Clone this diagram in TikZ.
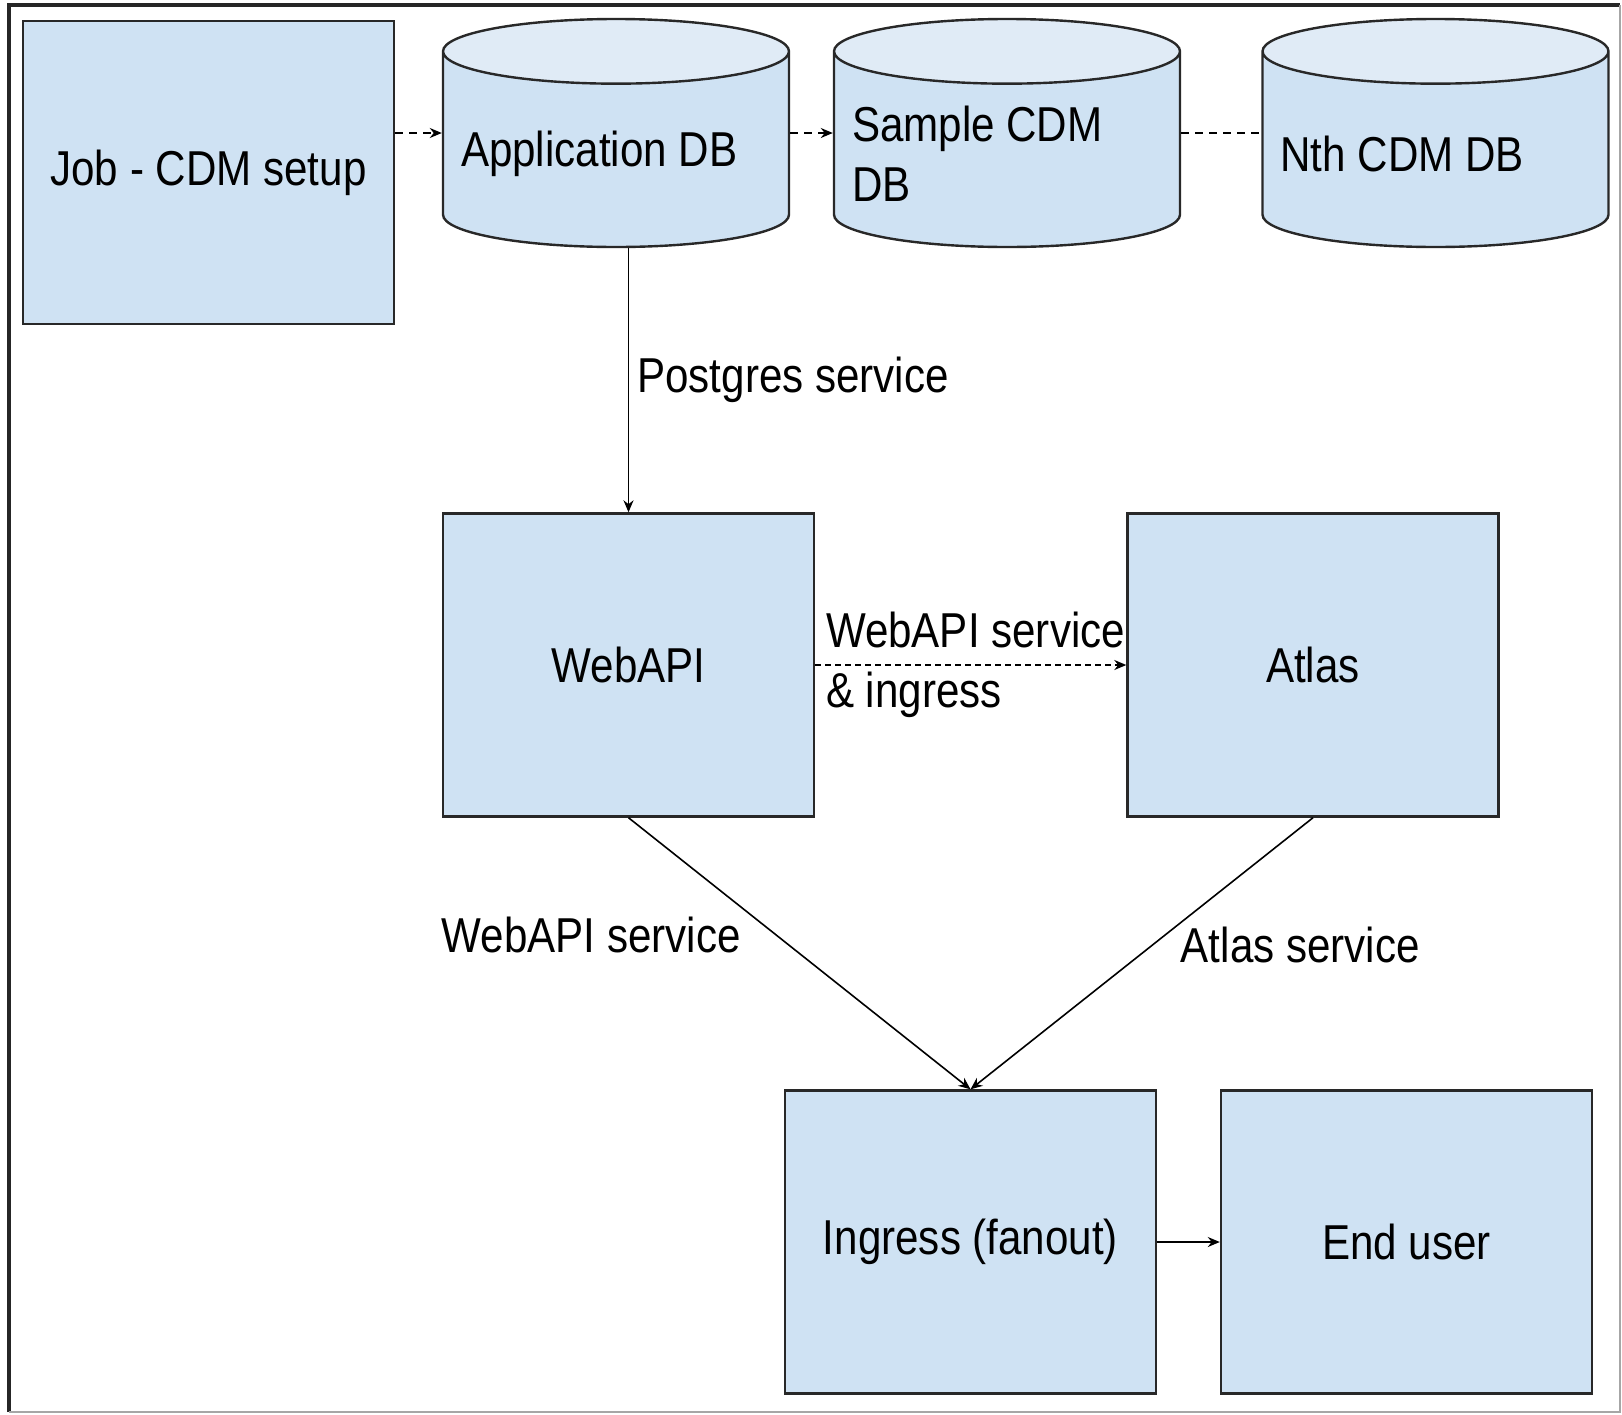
\documentclass[tikz,border=0pt]{standalone}
\usepackage{fontspec}
\setmainfont{Liberation Sans}[FakeStretch=0.86]
\usetikzlibrary{positioning,shapes.geometric,arrows.meta}
\definecolor{boxblue}{RGB}{207,226,243}
\definecolor{topblue}{RGB}{224,235,246}
\definecolor{rim}{RGB}{40,40,40}
\tikzset{
  blk/.style={rectangle, draw=rim, fill=boxblue, line width=1.2pt, minimum width=185.5pt, minimum height=151.5pt, inner sep=0pt},
  db/.style={cylinder, shape border rotate=90, aspect=0.2, draw=rim, line width=1.2pt, cylinder uses custom fill, cylinder body fill=boxblue, cylinder end fill=topblue, minimum width=173pt, minimum height=114pt, text width=155pt, align=flush left},
  line/.style={draw, line width=0.8pt, ->, >={Stealth[length=6pt,width=5pt]}},
  dline/.style={line, dash pattern=on 4pt off 3pt},
  fline/.style={line, dash pattern=on 3pt off 2pt},
  lbl/.style={inner sep=0pt, align=flush left}
}

\begin{document}
\begin{tikzpicture}[x=0.5pt, y=-0.5pt, font=\fontsize{24.5}{30}\selectfont]
  \useasboundingbox (0,0) rectangle (1622,1414);
  % outer frame
  \draw[line width=2pt, black!85] (9,1412) -- (9,5) -- (1620,5);
  \draw[line width=1pt, black!35] (1620,5) -- (1620,1412) -- (9,1412);

  \node[blk] (job) at (208.5,172.5) {Job - CDM setup};
  \node[db, anchor=shape center] (appdb) at (616,133) {Application DB};
  \node[db, right of=appdb, node distance=195.5pt] (sample) {Sample CDM\\DB};
  \node[db, right of=sample, node distance=214.25pt] (nth) {Nth CDM DB};

  \node[blk] (wapi) at (628.5,665) {WebAPI};
  \node[blk, right of=wapi, node distance=342.25pt] (atlas) {Atlas};

  \node[blk] (ingr) at (970.5,1242) {Ingress (fanout)};
  \node[blk, right of=ingr, node distance=218pt] (euser) {End user};

  % databases
  \path[dline] (job.east |- appdb.shape center) -- (appdb.west |- appdb.shape center);
  \path[dline] (appdb.east |- appdb.shape center) -- (sample.west |- sample.shape center);
  \draw[line width=0.8pt, dash pattern=on 4pt off 3pt] (sample.east |- sample.shape center) -- (nth.west |- nth.shape center);

  % services
  \path[line] (appdb.south -| wapi.north) -- (wapi.north)
    node[pos=0.5, right=4pt, lbl] {Postgres service};
  \path[fline] (wapi) -- (atlas)
    node[pos=0, right=5pt, lbl] {WebAPI service\\\& ingress};
  \path[line] (wapi.south) -- (ingr.north)
    node[pos=0.43, left=17pt, lbl] {WebAPI service};
  \path[line] (atlas.south) -- (ingr.north)
    node[pos=0.47, right=14pt, lbl] {Atlas service};
  \path[line] (ingr) -- (euser);
\end{tikzpicture}
\end{document}
